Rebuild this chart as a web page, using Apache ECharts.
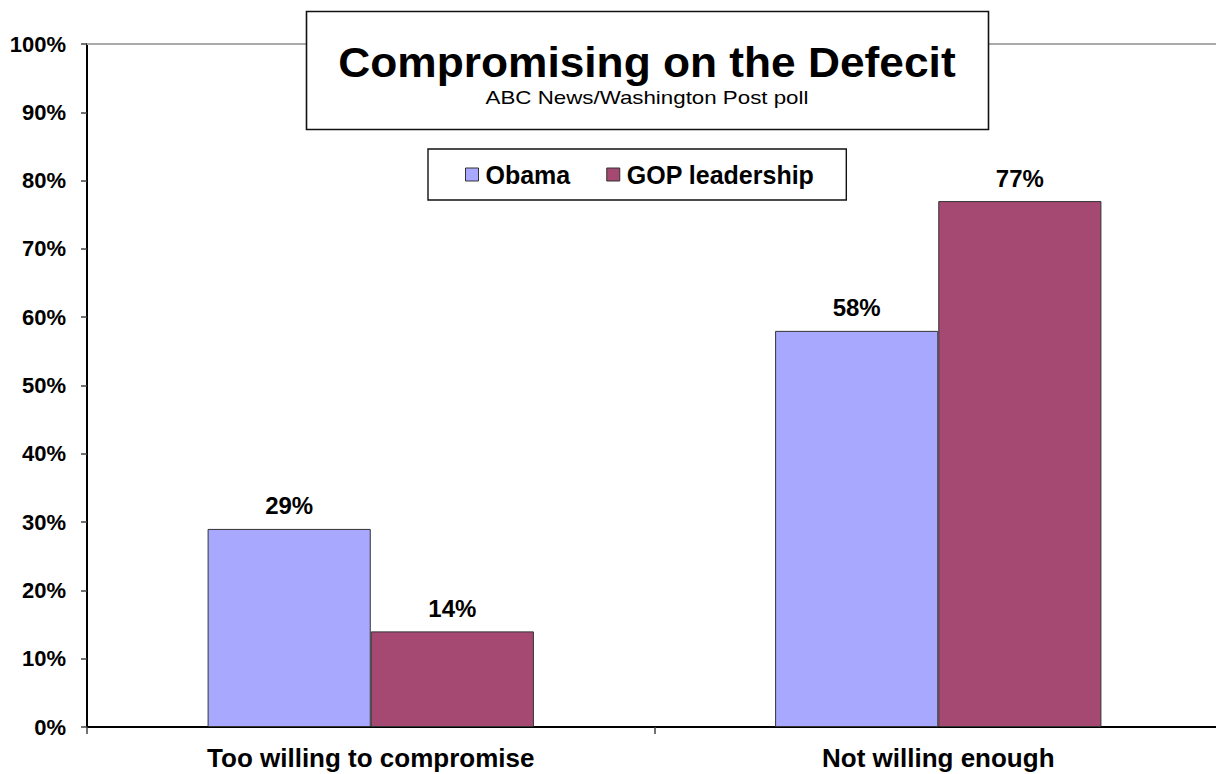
<!DOCTYPE html>
<html><head><meta charset="utf-8">
<script src="https://cdn.jsdelivr.net/npm/echarts@6/dist/echarts.min.js"></script>
<style>html,body{margin:0;padding:0;background:#fff;overflow:hidden}#c{width:1222px;height:774px}</style>
</head><body><div id="c"></div>
<script>
const categories = ["Too willing to compromise", "Not willing enough"];
const obama = [29, 58];
const gop = [14, 77];
const yTicks = [0, 10, 20, 30, 40, 50, 60, 70, 80, 90, 100];
const titleText = "Compromising on the Defecit";
const subtitleText = "ABC News/Washington Post poll";

const F = "'Liberation Sans', Arial, sans-serif";
const chart = echarts.init(document.getElementById('c'), null, {renderer: 'svg'});
chart.setOption({
  animation: false,
  backgroundColor: '#fff',
  textStyle: {fontFamily: F},
  graphic: [{
    type: 'rect', z: 50,
    shape: {x: 306.5, y: 11.5, width: 682, height: 118},
    style: {fill: '#fff', stroke: '#111', lineWidth: 1.6}
  }, {
    type: 'text', z: 60, x: 647, y: 62, scaleX: 1.03,
    style: {text: titleText, x: 0, y: 0, align: 'center', verticalAlign: 'middle',
      font: "bold 43px 'Liberation Sans', Arial, sans-serif", fill: '#000'}
  }, {
    type: 'text', z: 60, x: 647, y: 98, scaleX: 1.24,
    style: {text: subtitleText, x: 0, y: 0, align: 'center', verticalAlign: 'middle',
      font: "18px 'Liberation Sans', Arial, sans-serif", fill: '#000'}
  }],
  legend: {
    left: 428, top: 149,
    padding: [13, 32, 13, 37],
    itemGap: 36,
    borderColor: '#111', borderWidth: 1.4, backgroundColor: '#fff',
    icon: 'rect', itemWidth: 13, itemHeight: 13,
    itemStyle: {borderColor: '#333', borderWidth: 1},
    textStyle: {fontFamily: F, fontSize: 25, fontWeight: 'bold', color: '#000', padding: [0, 0, 0, 2]},
    data: ['Obama', 'GOP leadership']
  },
  grid: {left: 87, right: 0, top: 44, bottom: 47, containLabel: false},
  xAxis: {
    type: 'category', data: categories,
    axisLine: {lineStyle: {color: '#000', width: 2}},
    axisTick: {show: true, length: 7, lineStyle: {color: '#444', width: 1.5}},
    axisLabel: {fontFamily: F, fontSize: 26, fontWeight: 'bold', color: '#000', margin: 18}
  },
  yAxis: {
    type: 'value', min: 0, max: 100, interval: 10,
    axisLine: {show: true, lineStyle: {color: '#000', width: 2}},
    axisTick: {show: true, length: 6, lineStyle: {color: '#444', width: 1.5}},
    splitLine: {show: false},
    axisLabel: {fontFamily: F, fontSize: 22, fontWeight: 'bold', color: '#000', margin: 21,
      formatter: v => yTicks.includes(v) ? v + '%' : ''}
  },
  series: [{
    name: 'Obama', type: 'bar', data: obama,
    barGap: '0%', barCategoryGap: '42.5%',
    itemStyle: {color: '#a8a8ff', borderColor: '#333', borderWidth: 1},
    label: {show: true, position: 'top', distance: 11, formatter: '{c}%',
      fontFamily: F, fontSize: 24, fontWeight: 'bold', color: '#000'},
    markLine: {
      silent: true, symbol: 'none', z: 1,
      lineStyle: {color: '#aaa', width: 2, type: 'solid'},
      label: {show: false},
      data: [{yAxis: 100}]
    }
  }, {
    name: 'GOP leadership', type: 'bar', data: gop,
    barGap: '0%', barCategoryGap: '42.5%',
    itemStyle: {color: '#a54872', borderColor: '#333', borderWidth: 1},
    label: {show: true, position: 'top', distance: 11, formatter: '{c}%',
      fontFamily: F, fontSize: 24, fontWeight: 'bold', color: '#000'}
  }]
});
</script></body></html>
